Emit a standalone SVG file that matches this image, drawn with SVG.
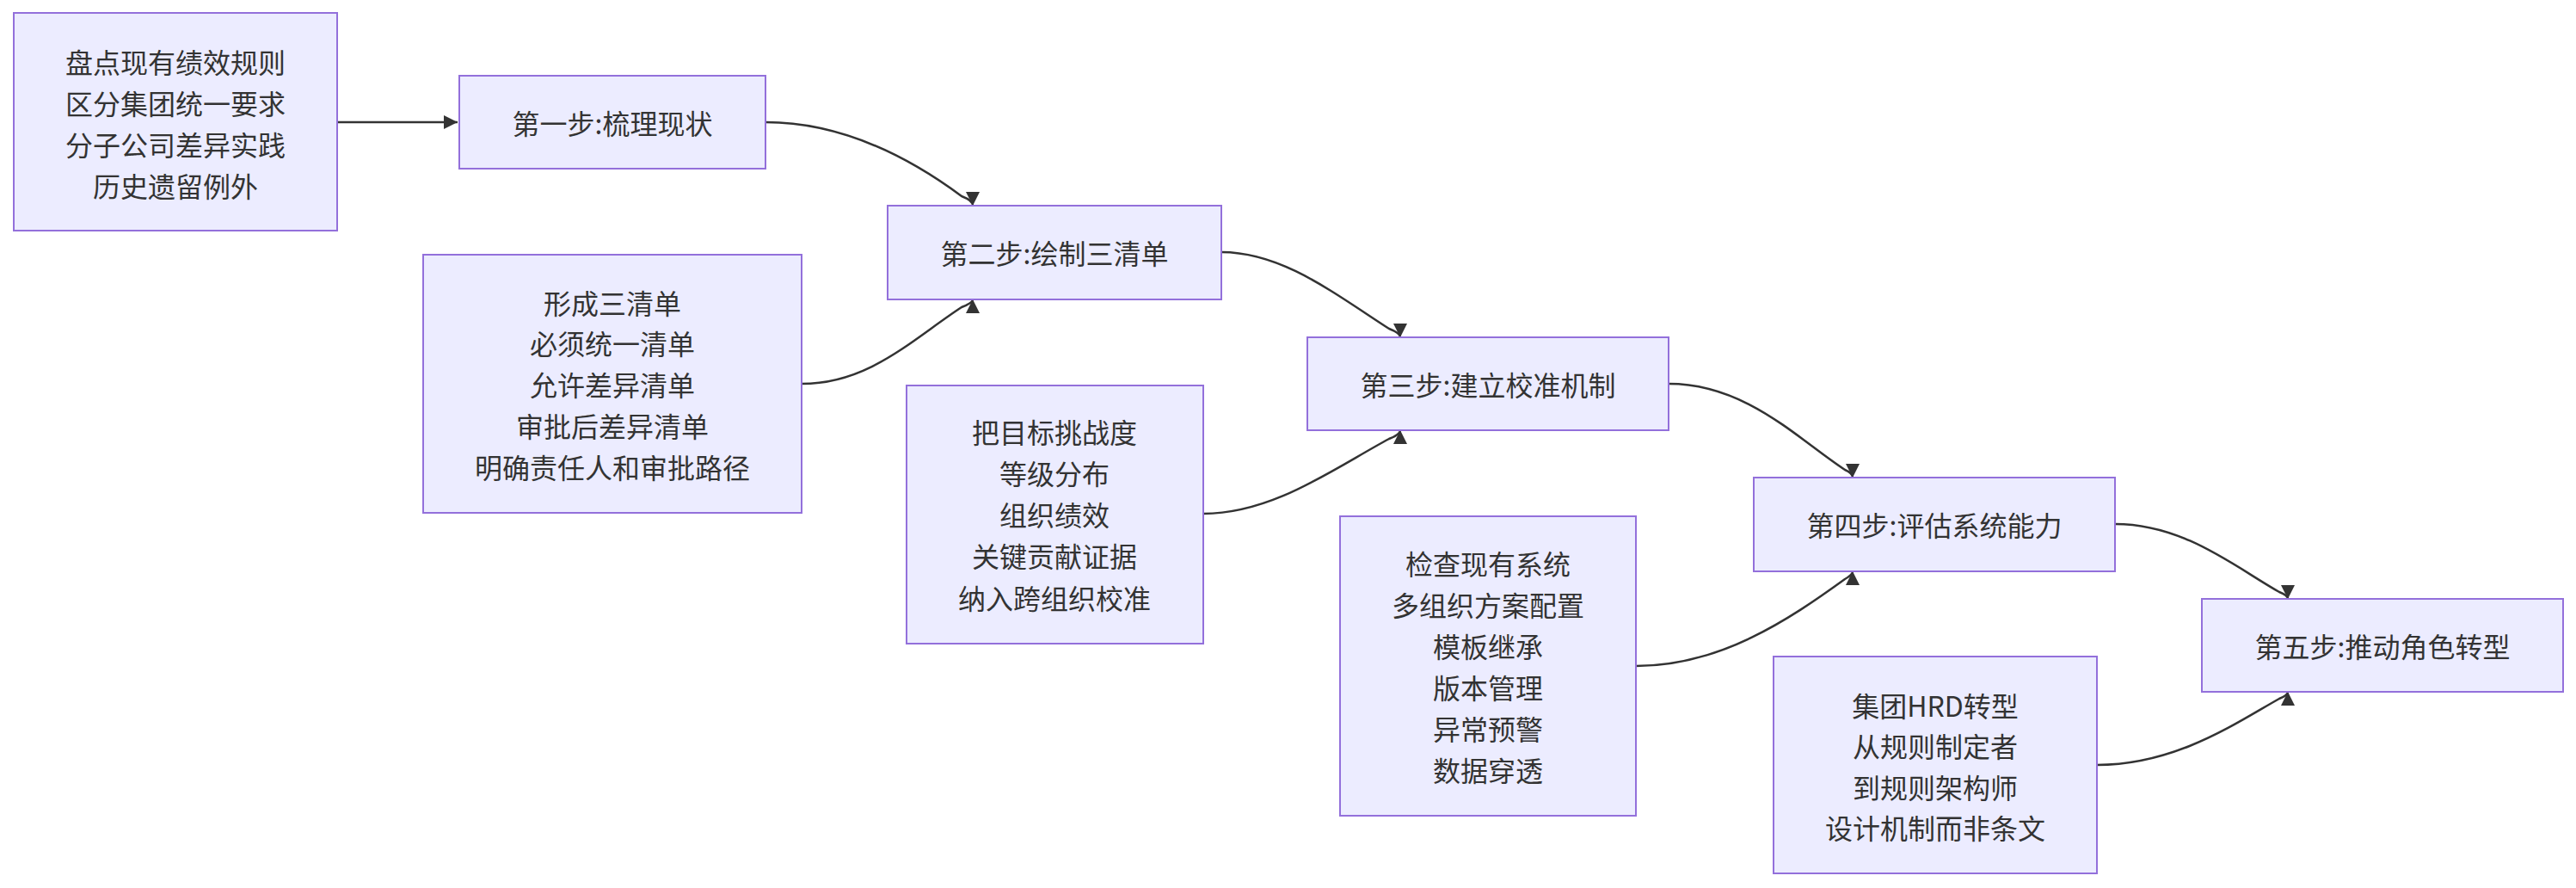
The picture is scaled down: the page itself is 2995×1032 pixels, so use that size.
<svg xmlns="http://www.w3.org/2000/svg" width="2995" height="1032" viewBox="0 0 2995 1032">
<style>
.n rect{fill:#ECECFF;stroke:#9370DB;stroke-width:2}
.n text{font-family:"Noto Sans CJK SC","Liberation Sans",sans-serif;font-size:32px;fill:#333;text-anchor:middle;dominant-baseline:central}
.e path{fill:none;stroke:#333;stroke-width:2.5}
</style>
<defs>
<marker id="ah" markerUnits="userSpaceOnUse" viewBox="0 0 10 10" refX="10" refY="5" markerWidth="16" markerHeight="16" orient="auto"><path d="M0,0 L10,5 L0,10 z" fill="#333"/></marker>
</defs>
<rect width="2995" height="1032" fill="#fff"/>
<g class="e">
<path d="M392,142 L532,142" marker-end="url(#ah)"/>
<path d="M890,142 C980,142 1060,185 1118,228 Q1131,233 1131,239" marker-end="url(#ah)"/>
<path d="M932,446 C1010,446 1060,395 1118,357 Q1131,352 1131,348" marker-end="url(#ah)"/>
<path d="M1420,293 C1490,293 1550,340 1615,382 Q1628,387 1628,392" marker-end="url(#ah)"/>
<path d="M1399,597 C1480,597 1550,545 1615,510 Q1628,505 1628,500" marker-end="url(#ah)"/>
<path d="M1940,446 C2030,446 2090,510 2145,546 Q2154,550 2154,555" marker-end="url(#ah)"/>
<path d="M1902,774 C2000,774 2080,720 2145,673 Q2154,668 2154,664" marker-end="url(#ah)"/>
<path d="M2459,609 C2540,609 2600,660 2650,688 Q2660,692 2660,696" marker-end="url(#ah)"/>
<path d="M2438,889 C2530,889 2600,840 2650,812 Q2660,808 2660,804" marker-end="url(#ah)"/>
</g>
<g class="n" id="A"><rect x="16" y="15" width="376" height="253"/>
<text x="204" y="71">盘点现有绩效规则</text><text x="204" y="119">区分集团统一要求</text><text x="204" y="167">分子公司差异实践</text><text x="204" y="215">历史遗留例外</text></g>
<g class="n" id="S1"><rect x="534" y="88" width="356" height="108"/><text x="712" y="142">第一步:梳理现状</text></g>
<g class="n" id="B"><rect x="492" y="296" width="440" height="300"/>
<text x="712" y="351">形成三清单</text><text x="712" y="398">必须统一清单</text><text x="712" y="446">允许差异清单</text><text x="712" y="494">审批后差异清单</text><text x="712" y="542">明确责任人和审批路径</text></g>
<g class="n" id="S2"><rect x="1032" y="239" width="388" height="109"/><text x="1226" y="293">第二步:绘制三清单</text></g>
<g class="n" id="C"><rect x="1054" y="448" width="345" height="300"/>
<text x="1226" y="501">把目标挑战度</text><text x="1226" y="549">等级分布</text><text x="1226" y="597">组织绩效</text><text x="1226" y="645">关键贡献证据</text><text x="1226" y="694">纳入跨组织校准</text></g>
<g class="n" id="S3"><rect x="1520" y="392" width="420" height="108"/><text x="1730" y="446">第三步:建立校准机制</text></g>
<g class="n" id="D"><rect x="1558" y="600" width="344" height="348"/>
<text x="1730" y="654">检查现有系统</text><text x="1730" y="702">多组织方案配置</text><text x="1730" y="750">模板继承</text><text x="1730" y="798">版本管理</text><text x="1730" y="846">异常预警</text><text x="1730" y="894">数据穿透</text></g>
<g class="n" id="S4"><rect x="2039" y="555" width="420" height="109"/><text x="2249" y="609">第四步:评估系统能力</text></g>
<g class="n" id="E"><rect x="2062" y="763" width="376" height="252"/>
<text x="2250" y="819">集团HRD转型</text><text x="2250" y="866">从规则制定者</text><text x="2250" y="914">到规则架构师</text><text x="2250" y="961">设计机制而非条文</text></g>
<g class="n" id="S5"><rect x="2560" y="696" width="420" height="108"/><text x="2770" y="750">第五步:推动角色转型</text></g>
</svg>
